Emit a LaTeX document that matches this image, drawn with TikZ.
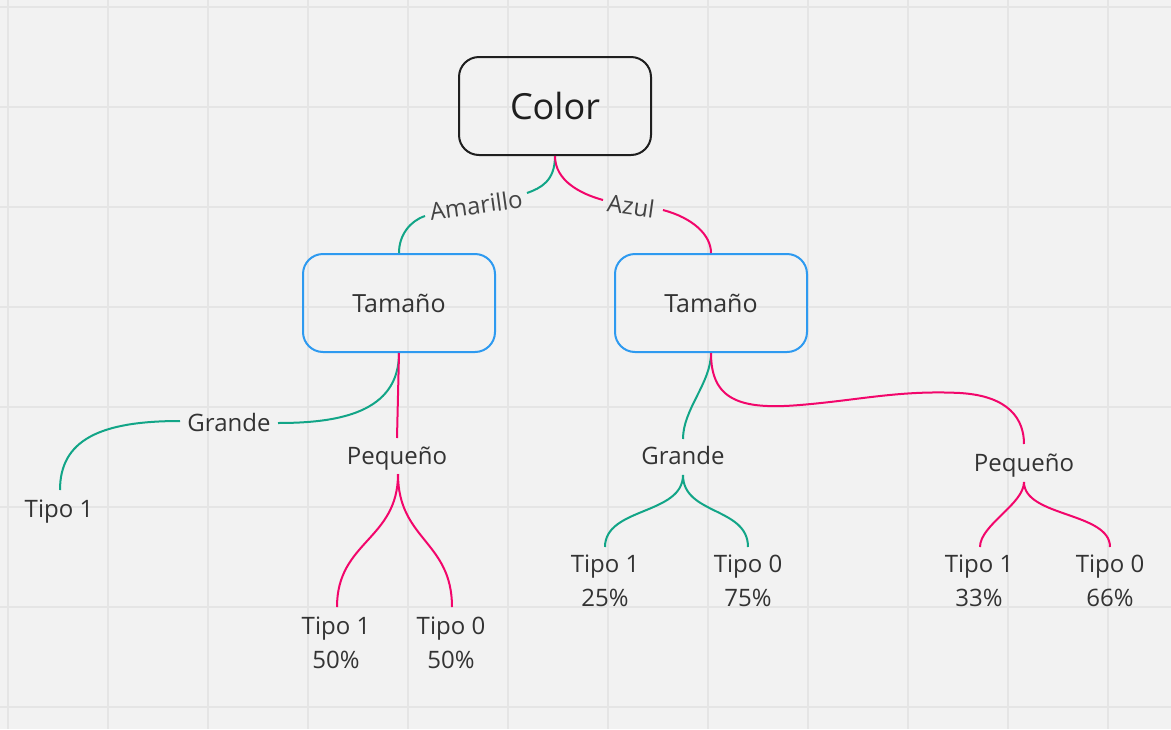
\documentclass[tikz,border=0pt]{standalone}
\usepackage{fontspec}
\setmainfont{Open Sans}
\definecolor{bg}{HTML}{F2F2F2}
\definecolor{gridc}{HTML}{E5E5E5}
\definecolor{grn}{HTML}{12A587}
\definecolor{pnk}{HTML}{F2066B}
\definecolor{blu}{HTML}{2E9AF0}
\definecolor{txt}{HTML}{333333}
\definecolor{lbltxt}{HTML}{444444}
\begin{document}
\begin{tikzpicture}[x=1pt,y=-1pt,
  lbl/.style={font=\fontsize{24}{34}\selectfont, text=txt, inner sep=0pt},
  leaf/.style={lbl, align=center},
  edgelbl/.style={font=\fontsize{24}{30}\selectfont, text=lbltxt, inner sep=0pt},
  gline/.style={draw=grn, line width=2pt},
  pline/.style={draw=pnk, line width=2pt},
  tbox/.style={draw=blu, line width=2pt, rounded corners=20pt, minimum width=192pt, minimum height=98pt, font=\fontsize{25}{30}\selectfont, text=txt},
  rootbox/.style={draw=black!88, line width=2pt, rounded corners=20pt, minimum width=192pt, minimum height=98pt, font=\fontsize{36}{40}\selectfont, text=black!88}
]
\fill[bg] (0,0) rectangle (1171,729);
\useasboundingbox (0,0) rectangle (1171,729);
\foreach \x in {8,108,...,1108} \draw[gridc, line width=1.2pt] (\x,0) -- (\x,729);
\foreach \y in {7,107,...,707} \draw[gridc, line width=1.2pt] (0,\y) -- (1171,\y);

% nodes
\node[rootbox] (color) at (555,106) {Color};
\node[tbox] (tl) at (399,303) {Tamaño};
\node[tbox] (tr) at (711,303) {Tamaño};

\node[edgelbl, rotate=8] (amar) at (476,205) {Amarillo};
\node[edgelbl, rotate=-8] (azul) at (631,206) {Azul};

\node[lbl, anchor=base] (gl) at (229,431) {Grande};
\node[lbl, anchor=base] (t1far) at (59,517) {Tipo 1};
\node[lbl, anchor=base] (pl) at (397,464) {Pequeño};
\node[leaf] (l50a) at (336,643) {Tipo 1\\50\%};
\node[leaf] (l50b) at (451,643) {Tipo 0\\50\%};

\node[lbl, anchor=base] (gr) at (683,464) {Grande};
\node[lbl, anchor=base] (pr) at (1024,471) {Pequeño};
\node[leaf] (l25) at (605,581) {Tipo 1\\25\%};
\node[leaf] (l75) at (748,581) {Tipo 0\\75\%};
\node[leaf] (l33) at (979,581) {Tipo 1\\33\%};
\node[leaf] (l66) at (1110,581) {Tipo 0\\66\%};

% connector end points
\coordinate (a1) at (527,193);
\coordinate (a2) at (425,216);
\coordinate (z1) at (603,200);
\coordinate (z2) at (663,210);
\coordinate (g1) at (278,423);
\coordinate (g2) at (180,421);
\coordinate (t1farT) at (60,490);
\coordinate (plT) at (397,438);
\coordinate (plB) at (398,474);
\coordinate (c50a) at (337,607);
\coordinate (c50b) at (452,607);
\coordinate (grT) at (683,439);
\coordinate (grB) at (683,475);
\coordinate (c25) at (605,547);
\coordinate (c75) at (748,547);
\coordinate (prT) at (1024,444);
\coordinate (prB) at (1024,482);
\coordinate (c33) at (980,547);
\coordinate (c66) at (1110,547);

% connectors
\draw[gline] (color.south) .. controls +(0,25) and +(14,-5) .. (a1);
\draw[gline] (a2) .. controls +(-15,5) and +(0,-18) .. (tl.north);
\draw[pline] (color.south) .. controls +(0,25) and +(-22,-6) .. (z1);
\draw[pline] (z2) .. controls +(30,8) and +(0,-18) .. (tr.north);

\draw[gline] (tl.south) .. controls +(0,60) and +(60,0) .. (g1);
\draw[gline] (g2) .. controls +(-80,0) and +(0,-50) .. (t1farT);
\draw[pline] (tl.south) -- (plT);
\draw[pline] (plB) .. controls +(0,66) and +(0,-66) .. (c50a);
\draw[pline] (plB) .. controls +(0,66) and +(0,-66) .. (c50b);

\draw[gline] (tr.south) .. controls +(0,30) and +(0,-30) .. (grT);
\draw[gline] (grB) .. controls +(0,40) and +(0,-40) .. (c25);
\draw[gline] (grB) .. controls +(0,40) and +(0,-40) .. (c75);
\draw[pline] (tr.south) .. controls (711,400) and (740,410) .. (800,405)
  .. controls (860,400) and (900,390) .. (960,393)
  .. controls (1010,396) and (1024,420) .. (prT);
\draw[pline] (prB) .. controls +(0,22) and +(0,-22) .. (c33);
\draw[pline] (prB) .. controls +(0,35) and +(0,-35) .. (c66);
\end{tikzpicture}
\end{document}
